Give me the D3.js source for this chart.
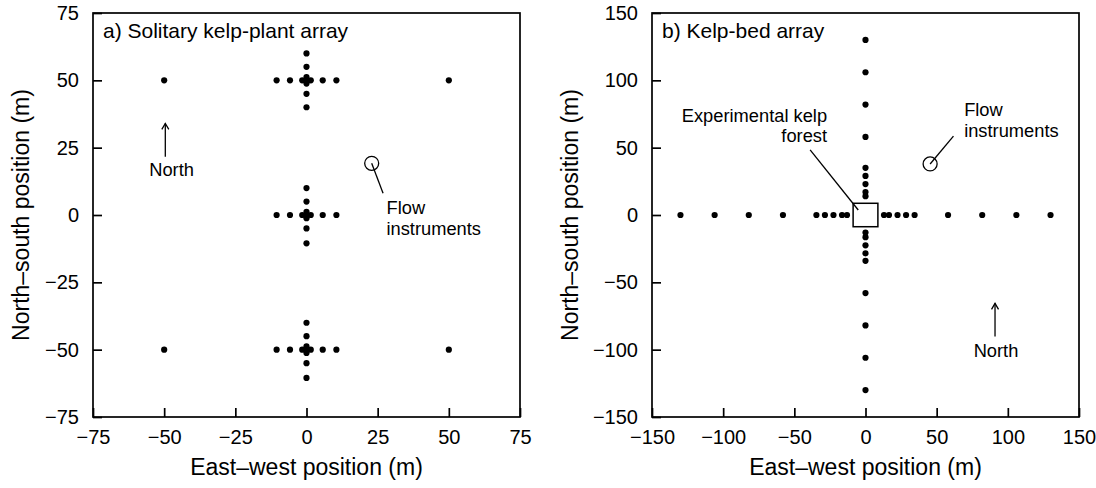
<!DOCTYPE html>
<html>
<head>
<meta charset="utf-8">
<script src="https://cdn.jsdelivr.net/npm/d3@7"></script>
<style>
  html, body { margin: 0; padding: 0; background: #fff; }
  svg { display: block; }
  text { font-family: 'Liberation Sans', Arial, Helvetica, sans-serif; fill: #000; }
</style>
</head>
<body>
<svg id="chart" width="1096" height="488"></svg>
<script>
// ---- data (metres) ----
// a) solitary kelp plants: three crosses plus four corner plants
const plantsA = [
  [-50, 50], [-10.5, 50], [-5.8, 50], [-1.5, 50], [0, 50], [1.5, 50], [5.7, 50], [10.5, 50], [50, 50],
  [0, 60], [0, 55], [0, 51.2], [0, 48.8], [0, 45], [0, 40],
  [-10.5, 0], [-5.8, 0], [-1.5, 0], [0, 0], [1.5, 0], [5.7, 0], [10.5, 0],
  [0, 10], [0, 5], [0, 1.2], [0, -1.2], [0, -5], [0, -10.5],
  [-50, -50], [-10.5, -50], [-5.8, -50], [-1.5, -50], [0, -50], [1.5, -50], [5.7, -50], [10.5, -50], [50, -50],
  [0, -40], [0, -45], [0, -48.8], [0, -51.2], [0, -55], [0, -60.5]
];
const ticksA = [-75, -50, -25, 0, 25, 50, 75];

// b) kelp-bed array: positions along the east-west and north-south lines
const bedEastWest = [-130, -106, -82, -58, -34.5, -28.5, -22.5, -16.5, -13, 13, 16.5, 22.5, 28.5, 34.5, 58, 82, 106, 130];
const bedNorthSouth = [130, 106, 82, 58, 35, 29, 23, 17, 14, -13, -16.5, -22.5, -28.5, -34, -58, -82, -106, -130];
const ticksB = [-150, -100, -50, 0, 50, 100, 150];
const forestHalf = 8.7; // half side of the experimental kelp forest square

const svg = d3.select('#chart');
const FONT_TICK = 20, FONT_AXIS = 23, FONT_TITLE = 21, FONT_NOTE = 18.3;

function drawPanel(opt) {
  const x = d3.scaleLinear().domain(opt.domain).range([opt.left, opt.right]);
  const y = d3.scaleLinear().domain(opt.domain).range([opt.bottom, opt.top]);
  const g = svg.append('g');

  // axes with inward ticks
  g.append('g')
    .attr('transform', `translate(0,${opt.bottom})`)
    .call(d3.axisBottom(x).tickValues(opt.ticks).tickSize(-9).tickSizeOuter(0).tickPadding(13))
    .call(a => a.select('.domain').remove())
    .call(a => a.selectAll('.tick line').attr('stroke', '#000').attr('stroke-width', 1.7))
    .call(a => a.selectAll('.tick text').attr('font-size', FONT_TICK).attr('font-family', null).attr('fill', '#000'));

  g.append('g')
    .attr('transform', `translate(${opt.left},0)`)
    .call(d3.axisLeft(y).tickValues(opt.ticks).tickSize(-9).tickSizeOuter(0).tickPadding(14))
    .call(a => a.select('.domain').remove())
    .call(a => a.selectAll('.tick line').attr('stroke', '#000').attr('stroke-width', 1.7))
    .call(a => a.selectAll('.tick text').attr('font-size', FONT_TICK).attr('font-family', null).attr('fill', '#000'));

  // frame
  g.append('rect')
    .attr('x', opt.left).attr('y', opt.top)
    .attr('width', opt.right - opt.left).attr('height', opt.bottom - opt.top)
    .attr('fill', 'none').attr('stroke', '#000').attr('stroke-width', 1.7);

  // axis titles
  g.append('text')
    .attr('x', (opt.left + opt.right) / 2).attr('y', 475)
    .attr('text-anchor', 'middle').attr('font-size', FONT_AXIS)
    .text('East\u2013west position (m)');
  g.append('text')
    .attr('transform', `translate(${opt.yTitleX},${(opt.top + opt.bottom) / 2}) rotate(-90)`)
    .attr('text-anchor', 'middle').attr('font-size', FONT_AXIS)
    .text('North\u2013south position (m)');

  // panel title
  g.append('text')
    .attr('x', opt.left + 10).attr('y', opt.top + 25)
    .attr('font-size', FONT_TITLE)
    .text(opt.title);

  return { g, x, y };
}

function northArrow(p, ax, headY, tailY, labelX, labelY) {
  const hx = p.x(ax), hy = p.y(headY);
  p.g.append('line')
    .attr('x1', hx).attr('x2', hx).attr('y1', hy).attr('y2', p.y(tailY))
    .attr('stroke', '#000').attr('stroke-width', 1.3);
  p.g.append('path')
    .attr('d', `M${hx - 3.5},${hy + 6}L${hx},${hy}L${hx + 3.5},${hy + 6}`)
    .attr('fill', 'none').attr('stroke', '#000').attr('stroke-width', 1.3);
  p.g.append('text')
    .attr('x', p.x(labelX)).attr('y', p.y(labelY))
    .attr('text-anchor', 'middle').attr('font-size', FONT_NOTE)
    .text('North');
}

function flowInstruments(p, cx, cy, lx, ly, tx, ty1, ty2) {
  p.g.append('line')
    .attr('x1', p.x(cx)).attr('y1', p.y(cy)).attr('x2', p.x(lx)).attr('y2', p.y(ly))
    .attr('stroke', '#000').attr('stroke-width', 1.3);
  p.g.append('circle')
    .attr('cx', p.x(cx)).attr('cy', p.y(cy)).attr('r', 7)
    .attr('fill', 'none').attr('stroke', '#000').attr('stroke-width', 1.3);
  p.g.append('text').attr('x', p.x(tx)).attr('y', p.y(ty1)).attr('font-size', FONT_NOTE).text('Flow');
  p.g.append('text').attr('x', p.x(tx)).attr('y', p.y(ty2)).attr('font-size', FONT_NOTE).text('instruments');
}

// ---- panel a ----
const pa = drawPanel({
  domain: [-75, 75], ticks: ticksA,
  left: 93, right: 520, top: 13, bottom: 417, yTitleX: 29,
  title: 'a) Solitary kelp-plant array'
});
pa.g.append('g').selectAll('circle')
  .data(plantsA)
  .join('circle')
  .attr('cx', d => pa.x(d[0]))
  .attr('cy', d => pa.y(d[1]))
  .attr('r', 3.1)
  .attr('fill', '#000');
northArrow(pa, -49.6, 34, 21.6, -47.4, 14.5);
flowInstruments(pa, 22.9, 19.2, 26.9, 8.1, 28.1, 0.3, -7.4);

// ---- panel b ----
const pb = drawPanel({
  domain: [-150, 150], ticks: ticksB,
  left: 652, right: 1079, top: 13, bottom: 417, yTitleX: 578,
  title: 'b) Kelp-bed array'
});
const dotsB = pb.g.append('g');
dotsB.selectAll('circle.ew')
  .data(bedEastWest)
  .join('circle')
  .attr('class', 'ew')
  .attr('cx', d => pb.x(d)).attr('cy', pb.y(0))
  .attr('r', 3.1).attr('fill', '#000');
dotsB.selectAll('circle.ns')
  .data(bedNorthSouth)
  .join('circle')
  .attr('class', 'ns')
  .attr('cx', pb.x(0)).attr('cy', d => pb.y(d))
  .attr('r', 3.1).attr('fill', '#000');

// experimental kelp forest square
pb.g.append('rect')
  .attr('x', pb.x(-forestHalf)).attr('y', pb.y(forestHalf))
  .attr('width', pb.x(forestHalf) - pb.x(-forestHalf))
  .attr('height', pb.y(-forestHalf) - pb.y(forestHalf))
  .attr('fill', '#fff').attr('stroke', '#000').attr('stroke-width', 1.5);
pb.g.append('line')
  .attr('x1', pb.x(-38.9)).attr('y1', pb.y(48.3)).attr('x2', pb.x(-5.1)).attr('y2', pb.y(3.7))
  .attr('stroke', '#000').attr('stroke-width', 1.3);
pb.g.append('text').attr('x', pb.x(-27)).attr('y', pb.y(69.3))
  .attr('text-anchor', 'end').attr('font-size', FONT_NOTE).text('Experimental kelp');
pb.g.append('text').attr('x', pb.x(-27)).attr('y', pb.y(54.4))
  .attr('text-anchor', 'end').attr('font-size', FONT_NOTE).text('forest');

flowInstruments(pb, 45.4, 37.9, 61.8, 58.6, 69.3, 73.7, 58.1);
northArrow(pb, 91, -65.6, -90.3, 91.7, -105.4);
</script>
</body>
</html>
